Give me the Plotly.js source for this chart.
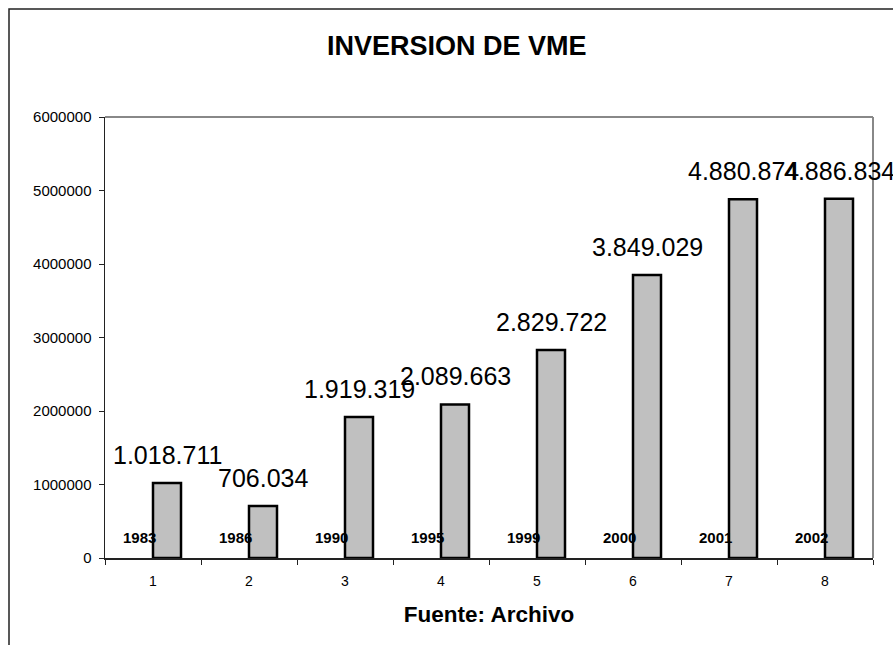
<!DOCTYPE html>
<html>
<head>
<meta charset="utf-8">
<script src="https://cdn.plot.ly/plotly-3.0.1.min.js"></script>
<style>html,body{margin:0;padding:0;background:#fff;}#chart{width:893px;height:645px;}</style>
</head>
<body>
<div id="chart"></div>
<script>
const categories = ['1', '2', '3', '4', '5', '6', '7', '8'];
const years = [1983, 1986, 1990, 1995, 1999, 2000, 2001, 2002];
const inversion = [1018711, 706034, 1919319, 2089663, 2829722, 3849029, 4880874, 4886834];
const yTicks = [0, 1000000, 2000000, 3000000, 4000000, 5000000, 6000000];

const FONT = 'Arial, "Liberation Sans", sans-serif';
function fmt(v) { return String(v).replace(/\B(?=(\d{3})+(?!\d))/g, '.'); }

const traceYears = {
  type: 'bar', x: categories, y: years, name: 'Año',
  marker: {color: 'rgba(0,0,0,0)', line: {width: 0}},
  hoverinfo: 'skip'
};
const traceInv = {
  type: 'bar', x: categories, y: inversion, name: 'Inversión',
  marker: {color: '#c0c0c0', line: {color: '#000000', width: 2.5}},
  hoverinfo: 'skip'
};

const annotations = [];
categories.forEach((c, i) => {
  annotations.push({
    x: i, y: inversion[i], xref: 'x', yref: 'y', text: fmt(inversion[i]),
    showarrow: false, xanchor: 'center', yanchor: 'bottom', xshift: 14, yshift: 12,
    font: {family: FONT, size: 25, color: '#000'}
  });
  annotations.push({
    x: i, y: 0, xref: 'x', yref: 'y', text: String(years[i]),
    showarrow: false, xanchor: 'center', yanchor: 'bottom', xshift: -14, yshift: 10,
    font: {family: FONT, size: 15, color: '#000', weight: 700}
  });
});

const layout = {
  width: 893, height: 645,
  margin: {l: 105, r: 20, t: 117, b: 87, pad: 0},
  paper_bgcolor: '#ffffff', plot_bgcolor: '#ffffff',
  showlegend: false,
  barmode: 'group', bargap: 0.4167, bargroupgap: 0,
  font: {family: FONT, color: '#000'},
  title: {
    text: 'INVERSION DE VME', xref: 'container', x: 0.5114, xanchor: 'center',
    yref: 'container', y: 0.930, yanchor: 'middle',
    font: {family: FONT, size: 27, weight: 700, color: '#000'}
  },
  xaxis: {
    type: 'category', range: [-0.5, 7.5], autorange: false,
    tickson: 'boundaries', ticks: 'outside', ticklen: 5, tickwidth: 1,
    tickcolor: '#222', showline: true, linecolor: '#222', linewidth: 1.5,
    showgrid: false, zeroline: false, tickfont: {family: FONT, size: 14, color: '#000'},
    ticklabelstandoff: 10,
    title: {text: 'Fuente: Archivo', standoff: 18, font: {family: FONT, size: 22.5, weight: 700, color: '#000'}}
  },
  yaxis: {
    range: [0, 6000000], autorange: false, tickvals: yTicks, tickformat: 'd', ticks: 'outside', ticklen: 5,
    tickwidth: 1, tickcolor: '#222', showline: true, linecolor: '#222', linewidth: 1.5,
    showgrid: false, zeroline: false, tickfont: {family: FONT, size: 15, color: '#000'},
    ticklabelstandoff: 4
  },
  shapes: [
    {type: 'rect', xref: 'paper', yref: 'paper', x0: -0.125, x1: 1.2, y0: -0.5, y1: 1.2449,
     line: {color: '#222', width: 1.5}, layer: 'below'},
    {type: 'line', xref: 'paper', yref: 'paper', x0: 0, x1: 1, y0: 1, y1: 1,
     line: {color: '#888', width: 2}, layer: 'below'},
    {type: 'line', xref: 'paper', yref: 'paper', x0: 1, x1: 1, y0: 0, y1: 1,
     line: {color: '#888', width: 2}, layer: 'below'}
  ],
  annotations: annotations
};

Plotly.newPlot('chart', [traceYears, traceInv], layout, {displayModeBar: false, staticPlot: true});
</script>
</body>
</html>
